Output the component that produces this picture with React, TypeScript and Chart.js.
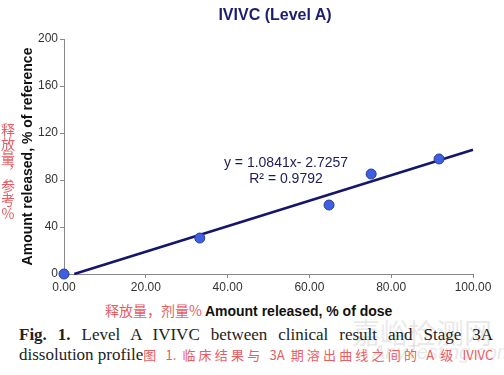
import React, { useEffect, useRef } from "react";
import { Chart, registerables } from "chart.js";

Chart.register(...registerables);

// Data
const doseReleased = [0, 33.2, 64.8, 75.1, 91.7]; // % of dose (x)
const refReleased = [0, 30.6, 58.7, 85.1, 97.9]; // % of reference (y)
const trendX = [2.51, 100];
const trendY = [0, 105.7];
const xTicks = [0, 20, 40, 60, 80, 100];
const yTicks = [0, 40, 80, 120, 160, 200];

const chartTitle = "IVIVC (Level A)";
const yTitle = "Amount released, % of reference";
const xTitle = "Amount released, % of dose";
const xTitleCn = "释放量，剂量%";
const yTitleCn = "释放量，参考%";
const equation = "y = 1.0841x- 2.7257";
const rSquared = "R² = 0.9792";

const RED = "rgb(232, 92, 98)";
const SANS = "'Liberation Sans', Arial, Helvetica, sans-serif";
const CJK = "'Noto Sans CJK SC', sans-serif";
const SERIF = "'Liberation Serif', 'Times New Roman', serif";

export default function App() {
  const canvasRef = useRef<HTMLCanvasElement | null>(null);

  useEffect(() => {
    const canvas = canvasRef.current;
    if (!canvas) return;
    const chart = new Chart(canvas, {
      type: "scatter",
      data: {
        datasets: [
          {
            label: "Observed",
            data: doseReleased.map((x, i) => ({ x, y: refReleased[i] })),
            pointRadius: 5,
            pointHoverRadius: 5,
            backgroundColor: "#3d5fe0",
            borderColor: "#2a3c9e",
            borderWidth: 1,
            showLine: false,
            clip: false,
          },
          {
            label: "Trend",
            data: trendX.map((x, i) => ({ x, y: trendY[i] })),
            showLine: true,
            pointRadius: 0,
            borderColor: "#15156b",
            borderWidth: 2.5,
            fill: false,
            clip: false,
          },
        ],
      },
      options: {
        responsive: false,
        animation: false,
        devicePixelRatio: 1,
        layout: { padding: { top: 39, left: 16, right: 31, bottom: 0 } },
        plugins: {
          legend: { display: false },
          tooltip: { enabled: false },
          title: { display: false },
        },
        scales: {
          x: {
            type: "linear",
            min: 0,
            max: 100,
            afterFit: (s: any) => {
              s.height = 26;
            },
            afterBuildTicks: (s: any) => {
              s.ticks = xTicks.map((v) => ({ value: v }));
            },
            ticks: {
              callback: (v: any) => Number(v).toFixed(2),
              color: "#333",
              font: { family: SANS, size: 12 },
              padding: 2,
              maxRotation: 0,
              autoSkip: false,
            },
            grid: {
              display: true,
              drawOnChartArea: false,
              drawTicks: true,
              tickLength: 4,
              color: "#888",
            },
            border: { display: true, color: "#888", width: 1 },
          },
          y: {
            type: "linear",
            min: 0,
            max: 200,
            afterFit: (s: any) => {
              s.width = 48;
            },
            afterBuildTicks: (s: any) => {
              s.ticks = yTicks.map((v) => ({ value: v }));
            },
            ticks: {
              color: "#333",
              font: { family: SANS, size: 12 },
              padding: 2,
              autoSkip: false,
            },
            grid: {
              display: true,
              drawOnChartArea: false,
              drawTicks: true,
              tickLength: 4,
              color: "#888",
            },
            border: { display: true, color: "#888", width: 1 },
            title: {
              display: true,
              text: yTitle,
              color: "#111",
              font: { family: SANS, size: 14, weight: "bold" },
              padding: { top: 4, bottom: 0 },
            },
          },
        },
      },
    });
    return () => chart.destroy();
  }, []);

  const abs = (style: React.CSSProperties): React.CSSProperties => ({
    position: "absolute",
    whiteSpace: "nowrap",
    margin: 0,
    ...style,
  });

  return (
    <div
      style={{
        position: "absolute",
        left: 0,
        top: 0,
        width: 504,
        height: 375,
        background: "#fff",
        overflow: "hidden",
      }}
    >
      <canvas
        ref={canvasRef}
        width={504}
        height={300}
        style={{ position: "absolute", left: 0, top: 0, width: 504, height: 300, display: "block" }}
      />
      {/* Chart title */}
      <div
        style={abs({
          left: 275,
          top: 5,
          transform: "translateX(-50%)",
          font: `bold 16px ${SANS}`,
          lineHeight: "20px",
          color: "#1e1e6e",
        })}
      >
        {chartTitle}
      </div>
      {/* Regression equation */}
      <div
        style={abs({
          left: 286,
          top: 154,
          transform: "translateX(-50%)",
          font: `14px ${SANS}`,
          lineHeight: "16px",
          color: "#1c1c5c",
          textAlign: "center",
        })}
      >
        <div>{equation}</div>
        <div>{rSquared}</div>
      </div>
      {/* Vertical Chinese y label */}
      <div
        style={abs({
          left: 1,
          top: 123,
          writingMode: "vertical-rl",
          textOrientation: "upright",
          font: `14px ${CJK}`,
          lineHeight: "14px",
          color: RED,
        })}
      >
        {yTitleCn}
      </div>
      {/* X axis title */}
      <div
        style={abs({
          left: 105,
          top: 300,
          lineHeight: "18px",
        })}
      >
        <span style={{ font: `14px ${CJK}`, color: RED }}>{xTitleCn}</span>
        <span style={{ font: `bold 14px ${SANS}`, color: "#111", marginLeft: 3 }}>{xTitle}</span>
      </div>
      {/* Watermark */}
      <div
        style={abs({
          left: 352,
          top: 316,
          font: `28px ${CJK}`,
          lineHeight: "32px",
          color: "rgba(190,190,190,0.35)",
        })}
      >
        嘉峪检测网
      </div>
      <div
        style={abs({
          left: 372,
          top: 340,
          font: `italic 20px ${SANS}`,
          lineHeight: "24px",
          color: "rgba(190,190,190,0.35)",
        })}
      >
        AnyTesting.com
      </div>
      {/* Caption */}
      <div
        style={abs({
          left: 19,
          top: 325,
          width: 474,
          font: `17px ${SERIF}`,
          lineHeight: "20px",
          color: "#222",
          textAlign: "justify",
          textAlignLast: "justify",
          whiteSpace: "normal",
        })}
      >
        <b>Fig. 1.</b> Level A IVIVC between clinical result and Stage 3A
      </div>
      <div
        style={abs({
          left: 19,
          top: 345,
          font: `17px ${SERIF}`,
          lineHeight: "20px",
          color: "#222",
        })}
      >
        dissolution profile
        <span
          style={{
            display: "inline-block",
            width: 350,
            font: `13px ${CJK}`,
            color: RED,
            textAlign: "justify",
            textAlignLast: "justify",
            verticalAlign: "baseline",
          }}
        >
          图 1. 临床结果与 3A 期溶出曲线之间的 A 级 IVIVC
        </span>
      </div>
    </div>
  );
}
